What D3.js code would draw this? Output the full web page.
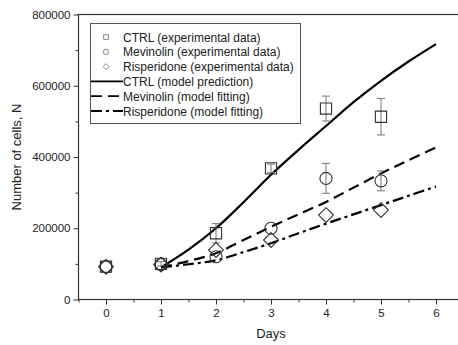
<!DOCTYPE html>
<html>
<head>
<meta charset="utf-8">
<script src="https://cdn.jsdelivr.net/npm/d3@7"></script>
<style>
  body { margin: 0; background: #fff; }
  text { font-family: "Liberation Sans", Arial, sans-serif; fill: #222; }
</style>
</head>
<body>
<svg id="chart" width="458" height="345"></svg>
<script>
const svg = d3.select("svg");

// experimental data (days, mean, error)
const days = [0, 1, 2, 3, 4, 5];
const ctrlData = [92000, 100000, 186000, 368000, 536000, 513000];
const ctrlErr = [0, 6000, 27000, 12000, 35000, 51000];
const mevData = [92000, 98000, 120000, 200000, 340000, 333000];
const mevErr = [0, 0, 0, 0, 42000, 28000];
const risData = [92000, 98000, 139000, 167000, 237000, 251000];

// model curves
const modelDays = [1, 1.5, 2, 2.5, 3, 3.5, 4, 4.5, 5, 5.5, 6];
const ctrlModel = [90000, 140000, 200000, 273000, 350000, 420000, 487000, 554000, 614000, 668000, 717000];
const mevModel = [90000, 108000, 130000, 167000, 204000, 239000, 274000, 314000, 354000, 391000, 427000];
const risModel = [90000, 99000, 110000, 133000, 158000, 186000, 213000, 239000, 265000, 291000, 317000];

const legendLabels = [
    "CTRL (experimental data)",
    "Mevinolin (experimental data)",
    "Risperidone (experimental data)",
    "CTRL (model prediction)",
    "Mevinolin (model fitting)",
    "Risperidone (model fitting)"
];

const x = d3.scaleLinear().domain([-0.5, 6.5]).range([78.5, 463.5]);
const y = d3.scaleLinear().domain([0, 800000]).range([299.5, 14.5]);

// axes
const xAxis = svg.append("g").attr("transform", "translate(0,299.5)");
xAxis.call(d3.axisBottom(x).tickValues(d3.range(0, 7)).tickSize(5).tickPadding(4).tickFormat(d3.format("d")));
xAxis.append("g").call(d3.axisBottom(x).tickValues(d3.range(-0.5, 7, 1)).tickSize(3).tickFormat(""));

const yAxis = svg.append("g").attr("transform", "translate(78.5,0)");
yAxis.call(d3.axisLeft(y).tickValues(d3.range(0, 800001, 200000)).tickSize(5).tickPadding(3).tickFormat(d3.format("d")));
yAxis.append("g").call(d3.axisLeft(y).tickValues(d3.range(100000, 800000, 200000)).tickSize(3).tickFormat(""));

svg.selectAll(".domain").remove();
svg.selectAll(".tick line").attr("stroke", "#333");
svg.selectAll(".tick text").style("font-size", "11.5px").attr("fill", "#222");

// frame
svg.append("rect")
    .attr("x", 78.5).attr("y", 14.5)
    .attr("width", 385).attr("height", 285)
    .attr("fill", "none").attr("stroke", "#333").attr("stroke-width", 1.2);

svg.append("text").attr("x", x(3)).attr("y", 338)
    .attr("text-anchor", "middle").style("font-size", "13px").text("Days");
svg.append("text")
    .attr("transform", "translate(21," + y(400000) + ") rotate(-90)")
    .attr("text-anchor", "middle").style("font-size", "13px").text("Number of cells, N");

// model lines
const line = d3.line().x(d => x(d[0])).y(d => y(d[1])).curve(d3.curveCatmullRom.alpha(0.5));
const models = [
    { vals: ctrlModel, dash: null },
    { vals: mevModel, dash: "11,6" },
    { vals: risModel, dash: "11,4,3,4" }
];
models.forEach(function (m) {
    svg.append("path")
        .datum(modelDays.map((d, i) => [d, m.vals[i]]))
        .attr("d", line)
        .attr("fill", "none")
        .attr("stroke", "#000")
        .attr("stroke-width", 2.2)
        .attr("stroke-dasharray", m.dash);
});

// error bars
function drawErr(vals, errs) {
    const g = svg.append("g").attr("stroke", "#777").attr("stroke-width", 1);
    days.forEach(function (d, i) {
        if (!errs[i]) return;
        const cx = x(d);
        g.append("line").attr("x1", cx).attr("x2", cx)
            .attr("y1", y(vals[i] + errs[i])).attr("y2", y(vals[i] - errs[i]));
        [1, -1].forEach(function (s) {
            g.append("line").attr("x1", cx - 4).attr("x2", cx + 4)
                .attr("y1", y(vals[i] + s * errs[i])).attr("y2", y(vals[i] + s * errs[i]));
        });
    });
}
drawErr(ctrlData, ctrlErr);
drawErr(mevData, mevErr);

// markers
const symSquare = d3.symbol().type(d3.symbolSquare).size(125);
const symCircle = d3.symbol().type(d3.symbolCircle).size(115);
const symDiamond = d3.symbol().type(d3.symbolDiamond2).size(140);

function drawPoints(vals, sym) {
    svg.append("g").selectAll("path")
        .data(vals)
        .enter()
        .append("path")
        .attr("d", sym)
        .attr("transform", (d, i) => "translate(" + x(days[i]) + "," + y(d) + ")")
        .attr("fill", "none")
        .attr("stroke", "#333")
        .attr("stroke-width", 1.1);
}
drawPoints(ctrlData, symSquare);
drawPoints(mevData, symCircle);
drawPoints(risData, symDiamond);

// legend
const legend = svg.append("g");
legend.append("rect")
    .attr("x", 90.5).attr("y", 23.5).attr("width", 210).attr("height", 100)
    .attr("fill", "#fff").attr("stroke", "#555").attr("stroke-width", 1);
const legendSyms = [
    d3.symbol().type(d3.symbolSquare).size(22),
    d3.symbol().type(d3.symbolCircle).size(22),
    d3.symbol().type(d3.symbolDiamond2).size(22)
];
legendLabels.forEach(function (label, i) {
    const ly = 37 + i * 14.8;
    if (i < 3) {
        legend.append("path").attr("d", legendSyms[i])
            .attr("transform", "translate(106," + ly + ")")
            .attr("fill", "none").attr("stroke", "#888").attr("stroke-width", 1);
    } else {
        legend.append("line")
            .attr("x1", 91).attr("x2", 123).attr("y1", ly).attr("y2", ly)
            .attr("stroke", "#000").attr("stroke-width", 1.8)
            .attr("stroke-dasharray", models[i - 3].dash);
    }
    legend.append("text").attr("x", 123).attr("y", ly + 4.5)
        .style("font-size", "12px").text(label);
});
</script>
</body>
</html>
